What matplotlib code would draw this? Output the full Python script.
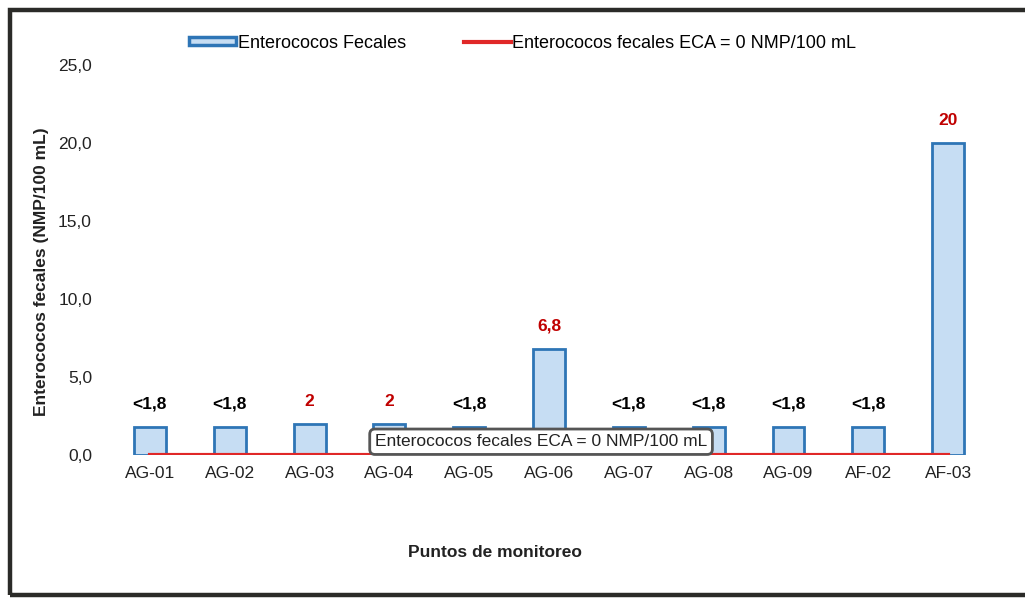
import matplotlib
matplotlib.use('Agg')
import matplotlib.pyplot as plt
from matplotlib.patches import Rectangle, Patch
from matplotlib.lines import Line2D
from matplotlib.ticker import FuncFormatter

# monitoring points and measured values
puntos = ['AG-01', 'AG-02', 'AG-03', 'AG-04', 'AG-05', 'AG-06',
          'AG-07', 'AG-08', 'AG-09', 'AF-02', 'AF-03']
valores = [1.8, 1.8, 2, 2, 1.8, 6.8, 1.8, 1.8, 1.8, 1.8, 20]
etiquetas = ['<1,8', '<1,8', '2', '2', '<1,8', '6,8', '<1,8', '<1,8', '<1,8', '<1,8', '20']
eca = [0] * len(puntos)

plt.rcParams['font.family'] = ['Liberation Sans', 'DejaVu Sans']

fig = plt.figure(figsize=(10.25, 5.99), dpi=100)
ax = fig.add_axes([0.1073, 0.2404, 0.8567, 0.6511])

x = list(range(len(puntos)))
ax.bar(x, valores, width=0.4, color='#c6ddf3', edgecolor='#2e75b6', linewidth=2, zorder=2)
ax.plot(x, eca, color='#e02828', linewidth=3, zorder=3)

# labels above the bars
for xi, v, t in zip(x, valores, etiquetas):
    col = 'black' if t.startswith('<') else '#c00000'
    ax.annotate(t, (xi, v), xytext=(0, 11), textcoords='offset points',
                ha='center', va='bottom', fontsize=12.5, fontweight='bold', color=col)

ax.set_xlim(-0.5, 10.5)
ax.set_ylim(0, 25)
ax.set_yticks([0, 5, 10, 15, 20, 25])
ax.yaxis.set_major_formatter(FuncFormatter(lambda v, p: f'{v:.1f}'.replace('.', ',')))
ax.set_xticks(x)
ax.set_xticklabels(puntos)
ax.tick_params(length=0, labelsize=12.5, colors='#222222', pad=8)
ax.tick_params(axis='y', pad=13)
for s in ax.spines.values():
    s.set_visible(False)

ax.set_xlabel('Puntos de monitoreo', fontsize=12.5, fontweight='bold', color='#222222')
ax.xaxis.set_label_coords(0.438, -0.23)
ax.set_ylabel('Enterococos fecales (NMP/100 mL)', fontsize=12.5, fontweight='bold', color='#222222')
ax.yaxis.set_label_coords(-0.07, 0.47)

# ECA label box
ax.text(4.9, 0.85, 'Enterococos fecales ECA = 0 NMP/100 mL', ha='center', va='center',
        fontsize=12.5, color='#222222', zorder=5,
        bbox=dict(boxstyle='round,pad=0.3', facecolor='white', edgecolor='#555555', linewidth=2))

handles = [Patch(facecolor='#c6ddf3', edgecolor='#2e75b6', linewidth=2.5),
           Line2D([0], [0], color='#e02828', linewidth=3)]
fig.legend(handles, ['Enterococos Fecales', 'Enterococos fecales ECA = 0 NMP/100 mL'],
           loc='center', bbox_to_anchor=(0.51, 0.928), ncol=2, frameon=False,
           fontsize=13, handlelength=2.6, handleheight=0.35, handletextpad=0.1, columnspacing=3.2)

# outer frame
fig.patches.append(Rectangle((0.0098, 0.0067), 1.1, 0.976, transform=fig.transFigure,
                             fill=False, edgecolor='#2b2b28', linewidth=3.2))

fig.savefig('out.png', dpi=100)
